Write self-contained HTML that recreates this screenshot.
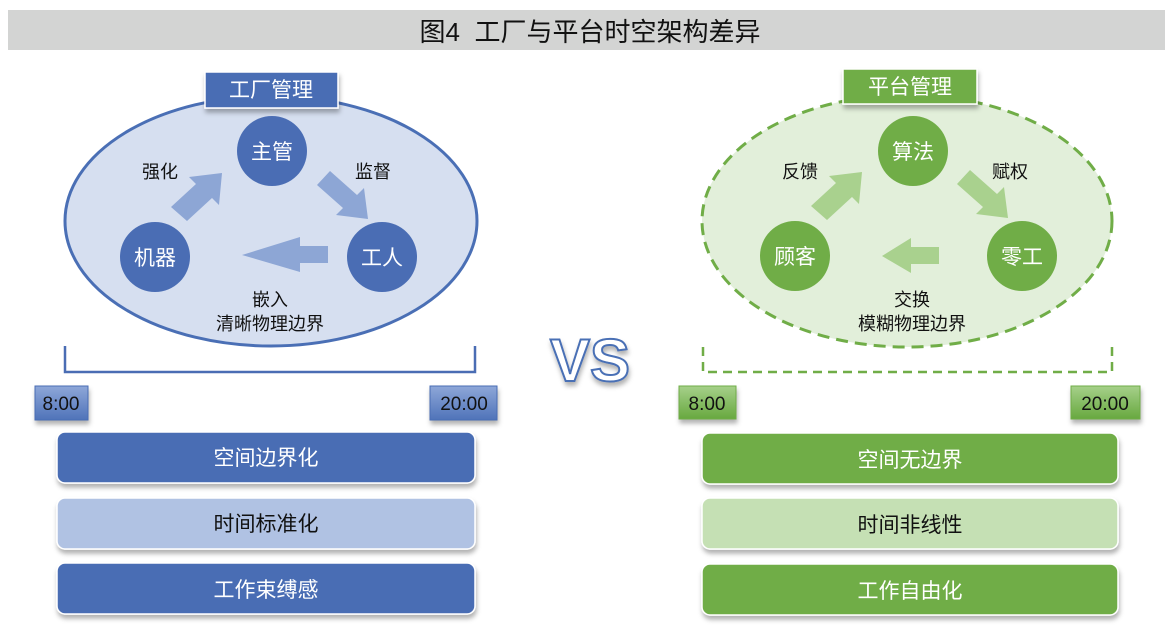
<!DOCTYPE html>
<html><head><meta charset="utf-8"><style>
body{margin:0;background:#fff;}
svg{display:block;}
text{font-family:"Liberation Sans","Noto Sans CJK SC",sans-serif;}
</style></head><body>
<svg width="1170" height="639" viewBox="0 0 1170 639" xmlns="http://www.w3.org/2000/svg">
<defs>
<filter id="sh" x="-20%" y="-20%" width="140%" height="160%"><feDropShadow dx="1" dy="4" stdDeviation="2.5" flood-color="#000" flood-opacity="0.3"/></filter>
<linearGradient id="gb" x1="0" y1="0" x2="0" y2="1"><stop offset="0" stop-color="#8ea7d8"/><stop offset="1" stop-color="#4f73b9"/></linearGradient>
<linearGradient id="gg" x1="0" y1="0" x2="0" y2="1"><stop offset="0" stop-color="#a6d08a"/><stop offset="1" stop-color="#67a83f"/></linearGradient>
</defs>
<rect x="8" y="10" width="1157" height="40" fill="#d3d4d3"/>
<text x="590" y="41" font-size="26" text-anchor="middle" fill="#111">图4&#160;&#160;工厂与平台时空架构差异</text>

<!-- left -->
<ellipse cx="271" cy="221" rx="206" ry="125" fill="#d6dff0" stroke="#4a6fb5" stroke-width="3"/>
<rect x="205" y="72" width="133" height="36" fill="#4a6db4" stroke="#fff" stroke-width="1.5" filter="url(#sh)"/>
<text x="271" y="97" font-size="21" fill="#fff" text-anchor="middle">工厂管理</text>
<circle cx="272" cy="151" r="35" fill="#4a6db4"/><text x="272" y="159" font-size="21" fill="#fff" text-anchor="middle">主管</text>
<circle cx="155" cy="257" r="35" fill="#4a6db4"/><text x="155" y="265" font-size="21" fill="#fff" text-anchor="middle">机器</text>
<circle cx="382" cy="257" r="35" fill="#4a6db4"/><text x="382" y="265" font-size="21" fill="#fff" text-anchor="middle">工人</text>
<g fill="#8da6d5">
<polygon points="171,207 196,184 189,177 222,173 219,205 212,198 187,221"/>
<polygon points="317,185 330,171 357,195 364,188 368,219 336,215 343,208"/>
<polygon points="328,246 300,246 300,237 242,255 300,272 300,263 328,263"/>
</g>
<text x="160" y="178" font-size="18" text-anchor="middle" fill="#111">强化</text>
<text x="373" y="178" font-size="18" text-anchor="middle" fill="#111">监督</text>
<text x="270" y="306" font-size="18" text-anchor="middle" fill="#111">嵌入</text>
<text x="270" y="330" font-size="18" text-anchor="middle" fill="#111">清晰物理边界</text>
<polyline points="65,346 65,372 475,372 475,346" fill="none" stroke="#4a6db4" stroke-width="2.5"/>
<rect x="35" y="386" width="53" height="34" fill="url(#gb)" stroke="#4a6db4" filter="url(#sh)"/>
<text x="61" y="410" font-size="19" text-anchor="middle" fill="#111">8:00</text>
<rect x="430" y="386" width="67" height="34" fill="url(#gb)" stroke="#4a6db4" filter="url(#sh)"/>
<text x="464" y="410" font-size="19" text-anchor="middle" fill="#111">20:00</text>
<rect x="57" y="432" width="418" height="51" rx="8" fill="#4a6db4" stroke="#fff" stroke-width="1.5" filter="url(#sh)"/>
<text x="266" y="465" font-size="21" text-anchor="middle" fill="#fff">空间边界化</text>
<rect x="57" y="498" width="418" height="51" rx="8" fill="#b0c2e3" stroke="#fff" stroke-width="1.5" filter="url(#sh)"/>
<text x="266" y="531" font-size="21" text-anchor="middle" fill="#111">时间标准化</text>
<rect x="57" y="563" width="418" height="51" rx="8" fill="#4a6db4" stroke="#fff" stroke-width="1.5" filter="url(#sh)"/>
<text x="266" y="597" font-size="21" text-anchor="middle" fill="#fff">工作束缚感</text>

<!-- VS -->
<text x="590" y="381" font-size="60" font-weight="bold" text-anchor="middle" fill="#fff" stroke="#4a6fb5" stroke-width="2" filter="url(#sh)">VS</text>

<!-- right -->
<ellipse cx="907" cy="221" rx="205" ry="126" fill="#e2efda" stroke="#70ad47" stroke-width="3" stroke-dasharray="12,7"/>
<rect x="843" y="69" width="134" height="35" fill="#70ad47" stroke="#fff" stroke-width="1.5" filter="url(#sh)"/>
<text x="910" y="94" font-size="21" fill="#fff" text-anchor="middle">平台管理</text>
<circle cx="913" cy="151" r="35" fill="#70ad47"/><text x="913" y="159" font-size="21" fill="#fff" text-anchor="middle">算法</text>
<circle cx="795" cy="256" r="35" fill="#70ad47"/><text x="795" y="264" font-size="21" fill="#fff" text-anchor="middle">顾客</text>
<circle cx="1022" cy="256" r="35" fill="#70ad47"/><text x="1022" y="264" font-size="21" fill="#fff" text-anchor="middle">零工</text>
<g fill="#a9d18e">
<polygon points="811,206 836,183 829,176 862,172 859,204 852,197 827,220"/>
<polygon points="957,184 970,170 997,194 1004,187 1008,218 976,214 983,207"/>
<polygon points="939,247 911,247 911,238 882,256 911,273 911,264 939,264"/>
</g>
<text x="800" y="178" font-size="18" text-anchor="middle" fill="#111">反馈</text>
<text x="1010" y="178" font-size="18" text-anchor="middle" fill="#111">赋权</text>
<text x="912" y="306" font-size="18" text-anchor="middle" fill="#111">交换</text>
<text x="912" y="330" font-size="18" text-anchor="middle" fill="#111">模糊物理边界</text>
<polyline points="703,347 703,372 1112,372 1112,347" fill="none" stroke="#70ad47" stroke-width="2.5" stroke-dasharray="9,6"/>
<rect x="679" y="386" width="57" height="33" fill="url(#gg)" stroke="#70ad47" filter="url(#sh)"/>
<text x="707" y="410" font-size="19" text-anchor="middle" fill="#111">8:00</text>
<rect x="1071" y="386" width="69" height="33" fill="url(#gg)" stroke="#70ad47" filter="url(#sh)"/>
<text x="1105" y="410" font-size="19" text-anchor="middle" fill="#111">20:00</text>
<rect x="702" y="433" width="416" height="51" rx="8" fill="#70ad47" stroke="#fff" stroke-width="1.5" filter="url(#sh)"/>
<text x="910" y="467" font-size="21" text-anchor="middle" fill="#fff">空间无边界</text>
<rect x="702" y="498" width="416" height="51" rx="8" fill="#c5e0b4" stroke="#fff" stroke-width="1.5" filter="url(#sh)"/>
<text x="910" y="532" font-size="21" text-anchor="middle" fill="#111">时间非线性</text>
<rect x="702" y="564" width="416" height="51" rx="8" fill="#70ad47" stroke="#fff" stroke-width="1.5" filter="url(#sh)"/>
<text x="910" y="598" font-size="21" text-anchor="middle" fill="#fff">工作自由化</text>
</svg>
</body></html>
